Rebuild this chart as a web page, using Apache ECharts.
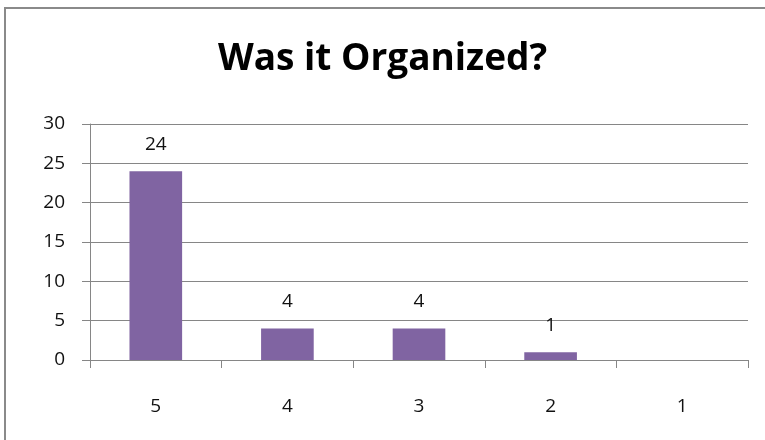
<!DOCTYPE html>
<html>
<head>
<meta charset="utf-8">
<script src="https://cdn.jsdelivr.net/npm/echarts@6/dist/echarts.min.js"></script>
<style>
  html, body { margin: 0; padding: 0; background: #fff; }
  #main { width: 765px; height: 440px; }
</style>
</head>
<body>
<div id="main"></div>
<script>
// 数据
var categories = ['5', '4', '3', '2', '1']
var counts = [24, 4, 4, 1, null]
var yTicks = { min: 0, max: 30, step: 5 }

var chart = echarts.init(document.getElementById('main'))

var option = {
  animation: false,
  backgroundColor: '#fff',
  graphic: [{
    type: 'rect',
    shape: { x: 5, y: 8, width: 820, height: 500 },
    style: { fill: 'none', stroke: '#8a8a8a', lineWidth: 2 },
    silent: true
  }],
  title: {
    text: 'Was it Organized?',
    left: 'center',
    top: 36,
    textStyle: {
      fontFamily: 'Open Sans',
      fontWeight: 'bold',
      fontSize: 37,
      color: '#000'
    }
  },
  grid: { left: 90, right: 17, top: 124, bottom: 80 },
  xAxis: {
    type: 'category',
    data: categories,
    axisLine: { lineStyle: { color: '#868686', width: 1 } },
    axisTick: { show: true, length: 8, alignWithLabel: false, lineStyle: { color: '#868686' } },
    axisLabel: { margin: 37, fontSize: 19, color: '#111', fontFamily: 'Open Sans' }
  },
  yAxis: {
    type: 'value',
    min: yTicks.min,
    max: yTicks.max,
    interval: yTicks.step,
    axisLine: { show: true, lineStyle: { color: '#868686', width: 1 } },
    axisTick: { show: true, length: 8, lineStyle: { color: '#868686' } },
    splitLine: { lineStyle: { color: '#868686', width: 1 } },
    axisLabel: { margin: 25, fontSize: 19, color: '#111', fontFamily: 'Open Sans' }
  },
  series: [{
    type: 'bar',
    data: counts,
    barWidth: '40%',
    itemStyle: { color: '#8064A2' },
    label: {
      show: true,
      position: 'top',
      distance: 17,
      fontSize: 19,
      color: '#111',
      fontFamily: 'Open Sans'
    }
  }]
}

chart.setOption(option)
</script>
</body>
</html>
